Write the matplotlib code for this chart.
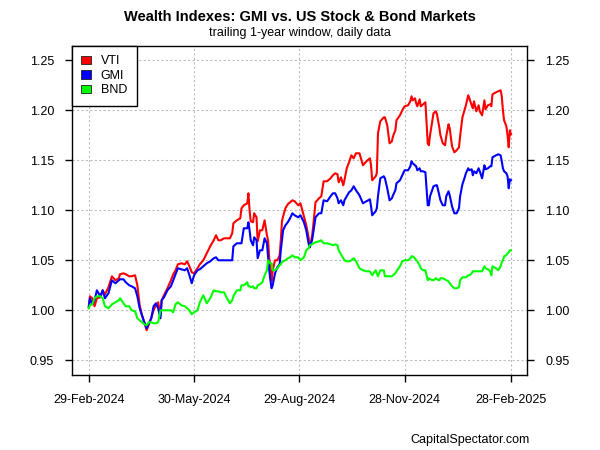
import matplotlib
matplotlib.use("Agg")
import matplotlib.pyplot as plt
import matplotlib.dates as mdates
import matplotlib.patches as mpatches
import pandas as pd

plt.rcParams['font.family'] = ['Liberation Sans', 'DejaVu Sans']

# values (wealth index, start = 1.0)
dates = [
    "2024-02-29", "2024-03-01", "2024-03-03", "2024-03-05", "2024-03-07", "2024-03-10",
    "2024-03-12", "2024-03-14", "2024-03-17", "2024-03-20", "2024-03-23", "2024-03-26",
    "2024-03-27", "2024-03-30", "2024-04-01", "2024-04-04", "2024-04-06", "2024-04-09",
    "2024-04-11", "2024-04-13", "2024-04-15", "2024-04-17", "2024-04-19", "2024-04-21",
    "2024-04-23", "2024-04-25", "2024-04-27", "2024-04-29", "2024-05-01", "2024-05-02",
    "2024-05-04", "2024-05-07", "2024-05-10", "2024-05-12", "2024-05-14", "2024-05-16",
    "2024-05-19", "2024-05-22", "2024-05-24", "2024-05-26", "2024-05-28", "2024-05-30",
    "2024-06-02", "2024-06-04", "2024-06-07", "2024-06-10", "2024-06-13", "2024-06-16",
    "2024-06-18", "2024-06-20",
    "2024-06-22", "2024-06-25", "2024-06-27", "2024-06-30", "2024-07-02", "2024-07-03",
    "2024-07-06", "2024-07-09", "2024-07-10", "2024-07-12", "2024-07-15", "2024-07-16",
    "2024-07-17", "2024-07-18", "2024-07-20", "2024-07-21", "2024-07-23", "2024-07-24",
    "2024-07-26", "2024-07-28", "2024-07-30", "2024-08-01", "2024-08-02", "2024-08-03",
    "2024-08-04", "2024-08-05", "2024-08-06", "2024-08-08", "2024-08-10", "2024-08-12",
    "2024-08-13", "2024-08-14", "2024-08-15", "2024-08-17", "2024-08-19", "2024-08-21",
    "2024-08-23", "2024-08-25", "2024-08-28", "2024-08-30", "2024-09-02", "2024-09-04",
    "2024-09-06", "2024-09-07", "2024-09-09", "2024-09-10", "2024-09-12", "2024-09-15",
    "2024-09-17", "2024-09-19", "2024-09-22", "2024-09-25", "2024-09-27", "2024-09-29",
    "2024-10-01", "2024-10-02", "2024-10-04", "2024-10-06", "2024-10-07", "2024-10-09",
    "2024-10-11", "2024-10-13", "2024-10-15", "2024-10-17",
    "2024-10-20", "2024-10-23", "2024-10-26", "2024-10-29", "2024-10-30", "2024-10-31",
    "2024-11-03", "2024-11-04", "2024-11-05", "2024-11-07", "2024-11-10", "2024-11-11",
    "2024-11-13", "2024-11-15", "2024-11-17", "2024-11-18", "2024-11-20", "2024-11-21",
    "2024-11-24", "2024-11-26", "2024-11-28", "2024-12-01", "2024-12-03", "2024-12-04",
    "2024-12-05", "2024-12-07", "2024-12-08", "2024-12-09", "2024-12-11", "2024-12-12",
    "2024-12-14", "2024-12-16", "2024-12-18", "2024-12-19", "2024-12-20", "2024-12-23",
    "2024-12-25", "2024-12-26", "2024-12-28", "2024-12-29", "2024-12-31", "2025-01-02",
    "2025-01-03", "2025-01-05", "2025-01-06", "2025-01-08", "2025-01-10", "2025-01-12",
    "2025-01-14", "2025-01-15", "2025-01-17", "2025-01-19", "2025-01-20", "2025-01-22",
    "2025-01-23", "2025-01-25", "2025-01-26", "2025-01-27", "2025-01-29", "2025-01-31",
    "2025-02-01", "2025-02-03", "2025-02-05", "2025-02-06", "2025-02-08", "2025-02-10",
    "2025-02-11", "2025-02-12", "2025-02-15", "2025-02-17", "2025-02-19", "2025-02-20",
    "2025-02-21", "2025-02-22", "2025-02-24", "2025-02-25", "2025-02-26", "2025-02-27",
    "2025-02-28",
]

vti = [
    1.004, 1.014, 1.012, 1.004, 1.012, 1.013, 1.020, 1.016, 1.023, 1.034, 1.030, 1.032,
    1.036, 1.037, 1.036, 1.034, 1.034, 1.035, 1.025, 1.005, 0.995, 0.988, 0.980, 0.986,
    0.992, 1.000, 1.005, 1.008, 0.995, 1.010, 1.015, 1.022, 1.030, 1.036, 1.040, 1.046,
    1.047, 1.046, 1.049, 1.044, 1.038, 1.037, 1.042, 1.046, 1.050, 1.057, 1.064, 1.070,
    1.075, 1.070,
    1.070, 1.072, 1.072, 1.072, 1.077, 1.087, 1.090, 1.092, 1.102, 1.105, 1.107, 1.117,
    1.100, 1.089, 1.088, 1.097, 1.093, 1.069, 1.080, 1.080, 1.090, 1.075, 1.070, 1.052,
    1.044, 1.029, 1.040, 1.050, 1.050, 1.055, 1.070, 1.089, 1.094, 1.102, 1.106, 1.108,
    1.110, 1.109, 1.105, 1.107, 1.094, 1.085, 1.073, 1.063, 1.074, 1.084, 1.108, 1.112,
    1.114, 1.129, 1.129, 1.132, 1.135, 1.137, 1.136, 1.128, 1.133, 1.125, 1.130, 1.142,
    1.148, 1.155, 1.152, 1.157,
    1.157, 1.145, 1.149, 1.152, 1.145, 1.130, 1.134, 1.137, 1.177, 1.189, 1.193, 1.193,
    1.185, 1.167, 1.169, 1.174, 1.180, 1.190, 1.195, 1.200, 1.204, 1.205, 1.209, 1.214,
    1.210, 1.212, 1.207, 1.204, 1.211, 1.204, 1.206, 1.208, 1.167, 1.165, 1.175, 1.197,
    1.199, 1.196, 1.183, 1.175, 1.167, 1.165, 1.174, 1.186, 1.182, 1.164, 1.158, 1.160,
    1.163, 1.174, 1.193, 1.201, 1.205, 1.215, 1.212, 1.205, 1.202, 1.209, 1.199, 1.205,
    1.199, 1.195, 1.210, 1.201, 1.205, 1.206, 1.204, 1.216, 1.218, 1.219, 1.220, 1.214,
    1.200, 1.190, 1.184, 1.175, 1.163, 1.180, 1.176,
]

gmi = [
    1.003, 1.012, 1.006, 1.010, 1.020, 1.014, 1.020, 1.012, 1.017, 1.030, 1.027, 1.030,
    1.031, 1.031, 1.028, 1.025, 1.024, 1.022, 1.014, 1.002, 0.995, 0.988, 0.982, 0.987,
    0.992, 1.004, 1.007, 1.002, 0.992, 1.010, 1.013, 1.020, 1.024, 1.030, 1.036, 1.042,
    1.041, 1.040, 1.042, 1.035, 1.027, 1.035, 1.040, 1.041, 1.044, 1.047, 1.049, 1.052,
    1.053, 1.050,
    1.050, 1.050, 1.050, 1.050, 1.050, 1.064, 1.067, 1.067, 1.067, 1.082, 1.082, 1.088,
    1.080, 1.070, 1.065, 1.073, 1.070, 1.052, 1.060, 1.060, 1.072, 1.067, 1.053, 1.040,
    1.030, 1.022, 1.025, 1.037, 1.043, 1.046, 1.060, 1.070, 1.080, 1.085, 1.088, 1.092,
    1.097, 1.095, 1.093, 1.095, 1.088, 1.080, 1.067, 1.063, 1.070, 1.077, 1.093, 1.097,
    1.097, 1.110, 1.109, 1.114, 1.117, 1.117, 1.112, 1.107, 1.110, 1.105, 1.110, 1.114,
    1.118, 1.120, 1.124, 1.120,
    1.115, 1.107, 1.109, 1.111, 1.104, 1.095, 1.099, 1.102, 1.114, 1.132, 1.134, 1.132,
    1.122, 1.110, 1.112, 1.115, 1.120, 1.127, 1.130, 1.135, 1.140, 1.140, 1.144, 1.149,
    1.147, 1.145, 1.144, 1.140, 1.142, 1.139, 1.139, 1.138, 1.105, 1.105, 1.114, 1.124,
    1.125, 1.125, 1.115, 1.110, 1.105, 1.105, 1.114, 1.119, 1.115, 1.104, 1.097, 1.097,
    1.102, 1.114, 1.126, 1.133, 1.137, 1.142, 1.140, 1.141, 1.135, 1.139, 1.137, 1.142,
    1.139, 1.132, 1.145, 1.141, 1.142, 1.144, 1.144, 1.153, 1.155, 1.156, 1.155, 1.149,
    1.142, 1.139, 1.137, 1.134, 1.122, 1.131, 1.130,
]

bnd = [
    1.002, 1.005, 1.006, 1.012, 1.014, 1.014, 1.012, 1.004, 1.002, 1.006, 1.008, 1.010,
    1.012, 1.007, 1.004, 1.004, 1.000, 0.999, 0.992, 0.990, 0.988, 0.986, 0.985, 0.988,
    0.988, 0.987, 0.987, 0.988, 1.000, 1.000, 1.000, 1.000, 1.000, 0.998, 1.006, 1.008,
    1.005, 1.004, 1.002, 1.000, 0.996, 0.998, 1.000, 1.008, 1.015, 1.007, 1.012, 1.020,
    1.019, 1.019,
    1.018, 1.018, 1.013, 1.007, 1.010, 1.014, 1.020, 1.020, 1.025, 1.025, 1.028, 1.024,
    1.024, 1.023, 1.024, 1.022, 1.022, 1.025, 1.026, 1.028, 1.035, 1.040, 1.050, 1.048,
    1.047, 1.047, 1.040, 1.040, 1.042, 1.045, 1.046, 1.048, 1.049, 1.050, 1.052, 1.053,
    1.055, 1.053, 1.053, 1.050, 1.053, 1.060, 1.062, 1.065, 1.066, 1.067, 1.068, 1.069,
    1.070, 1.067, 1.067, 1.066, 1.065, 1.066, 1.065, 1.060, 1.056, 1.052, 1.050, 1.049,
    1.049, 1.050, 1.052, 1.049,
    1.042, 1.040, 1.039, 1.039, 1.037, 1.035, 1.040, 1.037, 1.034, 1.040, 1.040, 1.034,
    1.034, 1.034, 1.034, 1.035, 1.037, 1.039, 1.044, 1.049, 1.050, 1.050, 1.052, 1.054,
    1.054, 1.052, 1.050, 1.049, 1.045, 1.042, 1.040, 1.040, 1.030, 1.032, 1.031, 1.030,
    1.032, 1.031, 1.030, 1.032, 1.032, 1.031, 1.030, 1.029, 1.027, 1.024, 1.022, 1.022,
    1.023, 1.030, 1.033, 1.033, 1.033, 1.035, 1.035, 1.037, 1.039, 1.039, 1.039, 1.039,
    1.039, 1.039, 1.044, 1.042, 1.041, 1.039, 1.035, 1.044, 1.042, 1.040, 1.044, 1.048,
    1.050, 1.054, 1.055, 1.057, 1.058, 1.060, 1.060,
]

tick_dates = ["2024-02-29", "2024-05-30", "2024-08-29", "2024-11-28", "2025-02-28"]
y_ticks = [0.95, 1.00, 1.05, 1.10, 1.15, 1.20, 1.25]

x = pd.to_datetime(dates)
xt = pd.to_datetime(tick_dates)

fig = plt.figure(figsize=(6, 4.5), dpi=100)
ax = fig.add_axes([0.12, 0.1667, 0.7583, 0.7311])

ax.plot(x, vti, color='#FF0000', lw=1.5)
ax.plot(x, gmi, color='#0000FF', lw=1.5)
ax.plot(x, bnd, color='#00FF00', lw=1.5)

start = x[0]
ax.set_xlim(start - pd.Timedelta(days=14.5), start + pd.Timedelta(days=378.8))
ax.set_ylim(0.9353, 1.2643)

ax.set_xticks(xt)
ax.xaxis.set_major_formatter(mdates.DateFormatter('%d-%b-%Y'))
ax.set_yticks(y_ticks)
ax.set_yticklabels(["%.2f" % v for v in y_ticks])

ax.grid(True, color='#BEBEBE', linestyle=(0, (2, 2)), lw=0.8)
ax.tick_params(axis='both', labelsize=9, length=5, width=1, color='black', direction='out')
ax.tick_params(axis='y', right=True, labelright=True, pad=8)
ax.tick_params(axis='x', pad=9)
for s in ax.spines.values():
    s.set_linewidth(1)

handles = [mpatches.Patch(facecolor=c, edgecolor='#202020', lw=0.6, label=l)
           for c, l in [('#FF0000', 'VTI'), ('#0000FF', 'GMI'), ('#00FF00', 'BND')]]
leg = ax.legend(handles=handles, loc='upper left', borderaxespad=0, fancybox=False,
                fontsize=9, handlelength=0.75, handleheight=0.7, handletextpad=0.8,
                labelspacing=0.2, borderpad=0.75, framealpha=1)
leg.get_frame().set_edgecolor('black')
leg.get_frame().set_linewidth(1)

fig.text(0.5, 1 - 17 / 450, "Wealth Indexes: GMI vs. US Stock & Bond Markets",
         ha='center', va='center', fontsize=10.5, fontweight='bold')
fig.text(0.5, 1 - 33 / 450, "trailing 1-year window, daily data",
         ha='center', va='center', fontsize=9)
fig.text(530 / 600, 1 - 440 / 450, "CapitalSpectator.com",
         ha='right', va='center', fontsize=9)

fig.savefig("out.png", dpi=100)
